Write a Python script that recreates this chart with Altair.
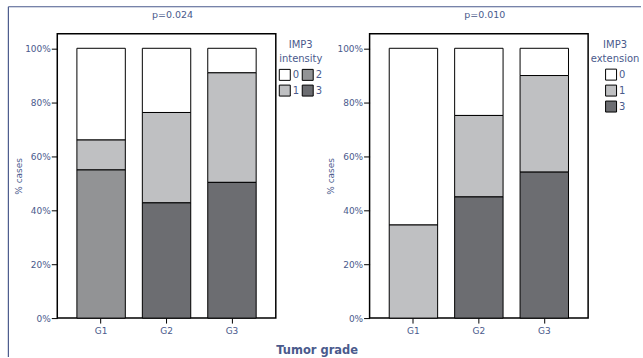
import altair as alt
import pandas as pd

grades = ["G1", "G2", "G3"]

# IMP3 intensity (% cases) per grade
int_levels = ["0", "1", "2", "3"]
int_0 = [34.0, 23.8, 9.1]
int_1 = [11.1, 33.5, 40.6]
int_2 = [54.9, 0.0, 0.0]
int_3 = [0.0, 42.7, 50.3]

# IMP3 extension (% cases) per grade
ext_levels = ["0", "1", "3"]
ext_0 = [65.5, 24.9, 10.1]
ext_1 = [34.5, 30.2, 35.8]
ext_3 = [0.0, 44.9, 54.1]

y_ticks = [0, 20, 40, 60, 80, 100]

TXT = "#4a5a8c"
FONT = "DejaVu Sans"
C0, C1, C2, C3 = "#ffffff", "#bfc0c2", "#929395", "#6c6d71"


def frame(levels, series):
    rows = []
    for lev, vals in zip(levels, series):
        for g, v in zip(grades, vals):
            if v > 0:
                rows.append({"grade": g, "level": lev, "pct": v, "rank": 3 - int(lev)})
    return pd.DataFrame(rows)


df_int = frame(int_levels, [int_0, int_1, int_2, int_3])
df_ext = frame(ext_levels, [ext_0, ext_1, ext_3])

W, H = 219, 285


def panel(df, legend_title, dom, rng, cols, xtitle, legend_x):
    common = dict(labelAngle=0, domain=False, tickColor="black", tickSize=5,
                  labelColor=TXT, labelFont=FONT, labelFontSize=9, labelPadding=3)
    if xtitle:
        xaxis = alt.Axis(title=xtitle, titleColor=TXT, titleFont=FONT, titleFontSize=11.5,
                         titleFontWeight="bold", titleX=260, titleY=35,
                         titleBaseline="alphabetic", titleAlign="center", **common)
    else:
        xaxis = alt.Axis(title=None, **common)
    bars = alt.Chart(df).mark_bar(stroke="black", strokeWidth=1).encode(
        x=alt.X("grade:N", sort=grades, axis=xaxis,
                scale=alt.Scale(paddingInner=0.26, paddingOuter=0.3)),
        y=alt.Y("pct:Q", stack="zero",
                scale=alt.Scale(domain=[0, 105.4], nice=False),
                axis=alt.Axis(values=y_ticks, labelExpr="datum.value + '%'", title="% cases",
                              domain=False, grid=False, tickColor="black", tickSize=6,
                              labelColor=TXT, labelFont=FONT, labelFontSize=9, labelPadding=1,
                              titleColor=TXT, titleFont=FONT, titleFontSize=9,
                              titleFontWeight="normal", titleX=-34, titleBaseline="bottom")),
        color=alt.Color("level:N", scale=alt.Scale(domain=dom, range=rng),
                        legend=alt.Legend(title=legend_title, orient="none",
                                          legendX=legend_x, legendY=6, columns=cols,
                                          symbolType="square", symbolSize=121,
                                          symbolStrokeColor="black", symbolStrokeWidth=1,
                                          labelColor=TXT, labelFont=FONT, labelFontSize=10,
                                          labelOffset=2, rowPadding=0, columnPadding=0,
                                          titleColor=TXT, titleFont=FONT, titleFontSize=10,
                                          titleFontWeight="normal", titleLineHeight=14,
                                          titleAnchor="middle", titleAlign="center",
                                          titlePadding=5)),
        order=alt.Order("rank:Q", sort="ascending"),
    )
    return bars


bars_l = panel(df_int, ["IMP3", "intensity"], ["0", "1", "2", "3"],
               [C0, C1, C2, C3], 2, "Tumor grade", 222)
bars_r = panel(df_ext, ["IMP3", "extension"], ["0", "1", "3"],
               [C0, C1, C3], 1, None, 222)

deco_top = alt.Chart(pd.DataFrame({"k": [0]})).mark_rule(color=TXT, strokeWidth=1.2).encode(
    x=alt.value(-49), x2=alt.value(585), y=alt.value(-27))
deco_left = alt.Chart(pd.DataFrame({"k": [0]})).mark_rule(color=TXT, strokeWidth=1.2).encode(
    x=alt.value(-49), y=alt.value(-27), y2=alt.value(324))


def ttl(t, off):
    return alt.TitleParams(t, fontSize=9.5, font=FONT, color=TXT, fontWeight="normal",
                           anchor="middle", frame="group", dx=6, offset=off,
                           baseline="alphabetic")


left = alt.layer(deco_top, deco_left, bars_l).properties(width=W, height=H,
                                                         title=ttl("p=0.024", -21))
right = alt.layer(bars_r).properties(width=W, height=H, title=ttl("p=0.010", 6.5))

chart = alt.hconcat(left, right, spacing=94, bounds="flush").resolve_scale(
    color="independent").properties(
    padding={"left": 6.4, "top": 4.4, "right": 0, "bottom": 0},
    background="white",
).configure_view(stroke="black", strokeWidth=1.5)

chart.save("out.html", embed_options={"renderer": "svg", "actions": False})
